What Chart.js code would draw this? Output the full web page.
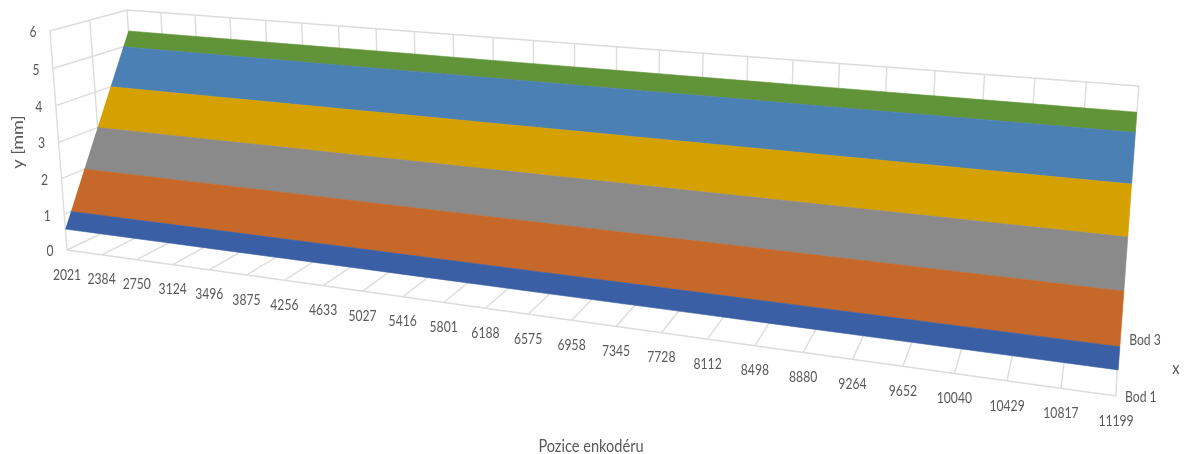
<!DOCTYPE html>
<html>
<head>
<meta charset="utf-8">
<title>Pozice enkodéru</title>
<script src="https://cdn.jsdelivr.net/npm/chart.js@4"></script>
<style>
    html, body { margin: 0; background: #fff; }
    canvas { display: block; }
</style>
</head>
<body>
<canvas id="myChart" width="1189" height="454"></canvas>
<script>
const categories = ['2021', '2384', '2750', '3124', '3496', '3875', '4256', '4633', '5027', '5416', '5801', '6188',
    '6575', '6958', '7345', '7728', '8112', '8498', '8880', '9264', '9652', '10040', '10429', '10817', '11199'];
const seriesNames = ['Bod 1', 'Bod 2', 'Bod 3'];
const yTicks = [0, 1, 2, 3, 4, 5, 6];

// measured heights in mm, one value per encoder position
const bod1 = [0.59, 0.59, 0.59, 0.59, 0.59, 0.59, 0.59, 0.59, 0.59, 0.59, 0.59, 0.59, 0.59,
    0.59, 0.59, 0.59, 0.59, 0.59, 0.59, 0.59, 0.59, 0.59, 0.59, 0.59, 0.59];
const bod2 = [3.0, 3.0, 3.0, 3.0, 3.0, 3.0, 3.0, 3.0, 3.0, 3.0, 3.0, 3.0, 3.0,
    3.0, 3.0, 3.0, 3.0, 3.0, 3.0, 3.0, 3.0, 3.0, 3.0, 3.0, 3.0];
const bod3 = [5.4, 5.4, 5.4, 5.4, 5.4, 5.4, 5.4, 5.4, 5.4, 5.4, 5.4, 5.4, 5.4,
    5.4, 5.4, 5.4, 5.4, 5.4, 5.4, 5.4, 5.4, 5.4, 5.4, 5.4, 5.4];

// one colour per 1 mm band, bottom to top
const bandColors = ['#3a5fa5', '#c56829', '#8a8a8a', '#d5a100', '#4b80b4', '#619339'];
const gridColor = '#dcdcdc';
const textColor = '#595959';

const columns = [bod1, bod2, bod3];
const yMax = yTicks[yTicks.length - 1];

// perspective camera: maps (position, depth, height), each 0..1, to the chart plane
const camX = [67, 808.3, 83.87, -18.6];
const camY = [250, 60.6, -19.6, -219.99];
const camW = [1, -0.2157, 0.0735, -0.032];

function project(u, v, w) {
    const d = camW[0] + camW[1] * u + camW[2] * v + camW[3] * w;
    return {
        x: (camX[0] + camX[1] * u + camX[2] * v + camX[3] * w) / d,
        y: (camY[0] + camY[1] * u + camY[2] * v + camY[3] * w) / d
    };
}

const lastCat = categories.length - 1;
const lastSer = seriesNames.length - 1;

// depth on one category's profile where the surface reaches a given height
function depthAt(i, level) {
    const vals = columns.map(c => c[i]);
    if (level <= vals[0]) return 0;
    for (let s = 0; s < lastSer; s++) {
        if (level <= vals[s + 1]) {
            return (s + (level - vals[s]) / (vals[s + 1] - vals[s])) / lastSer;
        }
    }
    return 1;
}

function clampLevel(i, level) {
    return Math.min(Math.max(level, columns[0][i]), columns[lastSer][i]);
}

// closed outline of the part of the surface lying between two heights
function bandOutline(low, high) {
    const pts = [];
    for (let i = 0; i <= lastCat; i++) {
        const l = clampLevel(i, low);
        pts.push(project(i / lastCat, depthAt(i, l), l / yMax));
    }
    for (let i = lastCat; i >= 0; i--) {
        const h = clampLevel(i, high);
        pts.push(project(i / lastCat, depthAt(i, h), h / yMax));
    }
    return pts;
}

// all wall and floor lines as one path, broken by null points
function gridLines() {
    const pts = [];
    const seg = (a, b) => pts.push(a, b, { x: null, y: null });
    // back wall and floor, one line per position
    categories.forEach((c, i) => {
        const u = i / lastCat;
        seg(project(u, 1, 0), project(u, 1, 1));
        seg(project(u, 0, 0), project(u, 1, 0));
    });
    // side wall heights
    yTicks.forEach(t => {
        seg(project(0, 0, t / yMax), project(0, 1, t / yMax));
        seg(project(0, 1, t / yMax), project(1, 1, t / yMax));
    });
    // side wall and floor, one line per series
    seriesNames.forEach((n, s) => {
        const v = s / lastSer;
        seg(project(0, v, 0), project(0, v, 1));
        seg(project(0, v, 0), project(1, v, 0));
    });
    return pts;
}

const bandDatasets = bandColors.map((color, b) => ({
    label: b + ' - ' + (b + 1),
    data: bandOutline(b, b + 1),
    showLine: true,
    fill: 'shape',
    backgroundColor: color,
    borderColor: color,
    borderWidth: 0.6,
    pointRadius: 0,
    order: 1
}));

// Axis text sits on the projected walls, so the hidden scales only give the plane
const axisText = {
    id: 'axisText',
    afterDraw(chart) {
        const c = chart.ctx;
        const sx = chart.scales.x;
        const sy = chart.scales.y;
        const put = (text, p, dx, dy, opts) => {
            const o = Object.assign({ align: 'center', size: 16, squeeze: 0.76, rot: 0 }, opts);
            c.save();
            c.translate(sx.getPixelForValue(p.x) + dx, sy.getPixelForValue(p.y) + dy);
            if (o.rot) {
                c.rotate(o.rot);
                c.scale(1, o.squeeze);
            } else {
                c.scale(o.squeeze, 1);
            }
            c.font = o.size + 'px Lato';
            c.fillStyle = textColor;
            c.textAlign = o.align;
            c.textBaseline = 'middle';
            c.fillText(text, 0, 0);
            c.restore();
        };
        yTicks.forEach(t => put(String(t), project(0, 0, t / yMax), -17, 1));
        categories.forEach((t, i) => put(t, project(i / lastCat, 0, 0), 0, 24.5));
        put(seriesNames[0], project(1, 0, 0), 9, 1, { align: 'left' });
        put(seriesNames[2], project(1, 1, 0), 11, 1, { align: 'left' });
        const title = { size: 18, squeeze: 0.81 };
        put('y [mm]', { x: 18, y: 142 }, 0, 0, { ...title, rot: -Math.PI / 2 });
        put('x', { x: 1176, y: 368 }, 0, 0, title);
        put('Pozice enkodéru', { x: 591, y: 446 }, 0, 0, title);
    }
};

const config = {
    type: 'scatter',
    data: {
        datasets: [...bandDatasets, {
            label: 'grid',
            data: gridLines(),
            showLine: true,
            spanGaps: false,
            borderColor: gridColor,
            borderWidth: 1.4,
            pointRadius: 0,
            order: 2
        }]
    },
    options: {
        responsive: false,
        animation: false,
        layout: { padding: 0 },
        scales: {
            x: { type: 'linear', display: false, min: 0, max: 1189 },
            y: { type: 'linear', display: false, min: 0, max: 454, reverse: true }
        },
        plugins: {
            legend: { display: false },
            tooltip: { enabled: false }
        }
    },
    plugins: [axisText]
};

const myChart = new Chart(document.getElementById('myChart'), config);
</script>
</body>
</html>
